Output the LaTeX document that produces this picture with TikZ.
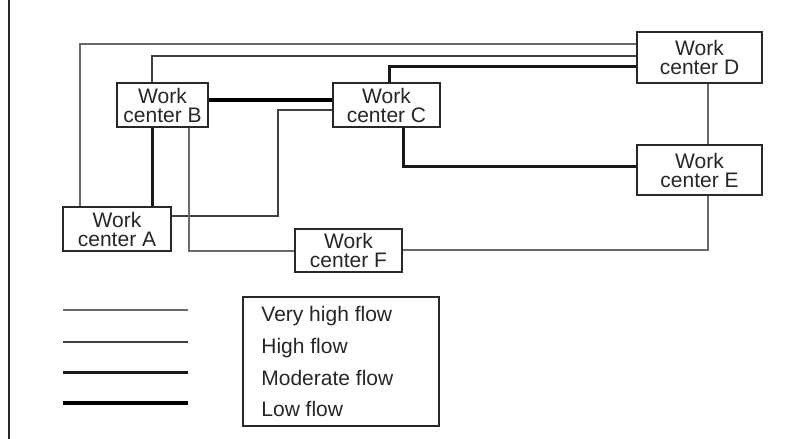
\documentclass[tikz,border=0pt]{standalone}
\usepackage{fontspec}
\setmainfont{Liberation Sans}
\usetikzlibrary{positioning}
\definecolor{greyi}{RGB}{105,105,105}
\definecolor{greyii}{RGB}{40,40,40}
\tikzset{
      mywcblock/.style 2 args={
        draw=greyii,
        line width=0.8pt,
        align=center,
        text=black!85,
        font=\fontsize{10.5pt}{9.5pt}\selectfont,
        minimum width=#1,
        minimum height=#2,
        inner sep=0pt
      },
      mylegtext/.style={
        anchor=west,
        text=black!85,
        font=\fontsize{10.5pt}{12pt}\selectfont,
        text height=8pt,
        text depth=2.5pt,
        inner sep=0pt
      },
      vhigh/.style={draw=greyi,line width=0.9pt},
      high/.style={draw=black!75,line width=1.05pt},
      moderate/.style={draw=black!90,line width=1.5pt},
      low/.style={draw=black,line width=2.1pt},
    }
\begin{document}
\begin{tikzpicture}[x=0.5pt,y=-0.5pt]
          \useasboundingbox (0,0) rectangle (787,439);
          \draw[greyii,line width=1pt] (9,0) -- (9,439);

          \node[mywcblock={54pt}{22pt}]
            (wcA) at (117,229)
            {Work\\center A};
          \node[mywcblock={45.5pt}{22pt}]
            (wcB) at (162.5,105)
            {Work\\center B};
          \node[mywcblock={53.5pt}{22pt}]
            (wcC) at (386.5,105)
            {Work\\center C};
          \node[mywcblock={62.5pt}{25.5pt}]
            (wcD) at (699.5,57.5)
            {Work\\center D};
          \node[mywcblock={62.5pt}{25pt}]
            (wcE) at (699.5,170)
            {Work\\center E};
          \node[mywcblock={53.5pt}{21.5pt}]
            (wcF) at (348.5,250.5)
            {Work\\center F};

          % flows between work centers
          \draw[vhigh] (wcA.north -| 80,0) |- (wcD.west |- 0,44);
          \draw[high] (wcB.north -| 152,0) |- (wcD.west |- 0,56);
          \draw[moderate] (wcC.north -| 389,0) |- (wcD.west |- 0,66);
          \draw[low] (wcB.east |- 0,100) -- (wcC.west |- 0,100);
          \draw[high] (wcC.west |- 0,110) -| (278,216) -- (wcA.east |- 0,216);
          \draw[moderate] (wcB.south -| 152,0) -- (wcA.north -| 152,0);
          \draw[vhigh] (wcB.south -| 189,0) |- (wcF.west |- 0,251);
          \draw[vhigh] (wcF.east |- 0,250) -| (wcE.south -| 708,0);
          \draw[moderate] (wcC.south -| 403,0) |- (wcE.west |- 0,166);
          \draw[vhigh] (wcD.south -| 708,0) -- (wcE.north -| 708,0);

          % legend
          \foreach \y/\s in {310/vhigh,342/high,372/moderate,403/low}
            \draw[\s] (63,\y) -- (188,\y);
          \node[draw=greyii,line width=0.8pt,minimum width=98pt,minimum height=64.5pt]
            (legend) at (341,361.5)
            {};
          \node[mylegtext]
            (leg1) at (261,316)
            {Very high flow};
          \node[mylegtext,below=5pt of leg1.south west,anchor=north west]
            (leg2)
            {High flow};
          \node[mylegtext,below=5pt of leg2.south west,anchor=north west]
            (leg3)
            {Moderate flow};
          \node[mylegtext,below=5pt of leg3.south west,anchor=north west]
            (leg4)
            {Low flow};
\end{tikzpicture}
\end{document}
